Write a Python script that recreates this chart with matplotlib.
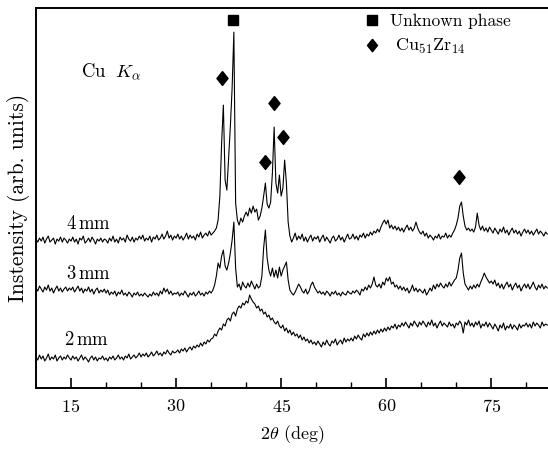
import numpy as np
import matplotlib
matplotlib.use("Agg")
import matplotlib.pyplot as plt

# scan grid: 2theta from 10 to 83 deg, step 0.25
two_theta = np.arange(10.0, 83.001, 0.25)

# intensities (arb. units, curves already offset)
i_4mm = [
    149, 146, 150, 147, 151, 145, 149, 152, 146, 148, 150, 144, 149, 147, 151, 146, 150, 148, 145, 149,
    147, 151, 146, 149, 144, 150, 148, 152, 145, 147, 150, 146, 151, 148, 144, 149, 147, 150, 146, 149,
    148, 145, 150, 147, 152, 146, 149, 145, 151, 148, 150, 146, 153, 149, 147, 151, 146, 150, 148, 152,
    149, 153, 147, 150, 148, 152, 146, 151, 149, 153, 148, 150, 154, 149, 152, 157, 150, 153, 148, 152,
    150, 154, 149, 152, 148, 151, 155, 149, 153, 150, 152, 148, 154, 151, 156, 150, 153, 155, 152, 157,
    153, 155, 157, 160, 168, 192, 245, 283, 208, 198, 230, 262, 300, 356, 185, 168, 163, 170, 166, 172,
    176, 172, 180, 175, 182, 176, 179, 168, 172, 180, 192, 205, 184, 180, 186, 215, 261, 205, 195, 213,
    192, 200, 228, 205, 166, 152, 146, 150, 155, 148, 152, 149, 154, 147, 151, 146, 150, 153, 147, 151,
    149, 152, 146, 150, 153, 147, 151, 148, 145, 150, 152, 147, 149, 153, 148, 151, 146, 150, 154, 149,
    150, 154, 149, 152, 148, 153, 151, 155, 150, 154, 152, 156, 153, 157, 155, 159, 156, 161, 165, 168,
    164, 168, 160, 163, 159, 162, 158, 161, 157, 160, 156, 160, 163, 158, 161, 157, 160, 166, 160, 156,
    154, 157, 152, 155, 150, 153, 151, 148, 152, 150, 154, 149, 152, 151, 155, 150, 153, 151, 155, 158,
    163, 170, 182, 186, 172, 162, 158, 160, 157, 159, 156, 161, 175, 163, 158, 162, 157, 160, 156, 161,
    158, 155, 160, 157, 154, 159, 156, 161, 155, 158, 153, 157, 160, 155, 158, 154, 157, 152, 156, 159,
    155, 158, 154, 157, 153, 156, 159, 154, 157, 155, 152, 156, 154,
]

i_3mm = [
    100, 97, 102, 99, 96, 101, 98, 103, 97, 100, 95, 99, 102, 97, 100, 96, 99, 101, 97, 100,
    98, 101, 96, 99, 102, 97, 100, 95, 99, 97, 101, 96, 99, 94, 98, 100, 95, 98, 96, 99,
    95, 98, 93, 96, 94, 97, 92, 96, 94, 98, 93, 95, 92, 96, 94, 91, 95, 93, 96, 92,
    94, 92, 95, 93, 91, 94, 92, 96, 93, 95, 92, 97, 94, 100, 96, 99, 94, 97, 93, 95,
    94, 96, 92, 95, 93, 97, 94, 91, 95, 93, 96, 92, 94, 97, 93, 95, 92, 96, 94, 97,
    95, 98, 103, 112, 125, 120, 132, 138, 122, 118, 125, 135, 148, 166, 120, 101, 104, 98, 106, 102,
    100, 105, 101, 107, 103, 99, 104, 100, 102, 112, 140, 158, 130, 118, 112, 120, 111, 118, 110, 121,
    112, 118, 122, 126, 108, 98, 95, 93, 96, 100, 104, 101, 97, 95, 99, 94, 97, 103, 106, 101,
    98, 95, 97, 94, 96, 93, 97, 95, 92, 96, 94, 97, 93, 95, 92, 96, 94, 93, 97, 95,
    94, 97, 95, 98, 96, 93, 99, 97, 101, 98, 103, 100, 104, 111, 103, 101, 104, 100, 106, 103,
    110, 107, 111, 104, 106, 101, 103, 99, 102, 98, 101, 97, 100, 95, 98, 103, 97, 100, 96, 99,
    97, 95, 99, 93, 96, 100, 97, 103, 99, 104, 101, 105, 102, 100, 104, 101, 106, 102, 105, 108,
    110, 118, 130, 135, 115, 104, 101, 98, 102, 99, 103, 100, 104, 101, 106, 110, 115, 111, 108, 105,
    107, 104, 108, 102, 105, 100, 104, 99, 103, 106, 101, 104, 98, 102, 105, 100, 103, 97, 101, 104,
    100, 104, 99, 102, 106, 101, 98, 103, 100, 104, 99, 102, 100,
]

i_2mm = [
    31, 28, 33, 29, 32, 27, 30, 34, 28, 31, 29, 33, 27, 30, 32, 28, 31, 29, 33, 30,
    28, 32, 29, 31, 27, 30, 33, 28, 31, 29, 26, 30, 32, 28, 31, 27, 30, 29, 32, 28,
    30, 27, 31, 29, 32, 28, 30, 33, 29, 31, 28, 32, 30, 34, 29, 31, 33, 30, 32, 35,
    31, 34, 32, 35, 31, 33, 36, 32, 34, 37, 33, 35, 32, 36, 34, 38, 35, 33, 37, 35,
    36, 38, 35, 39, 37, 40, 36, 39, 41, 38, 42, 40, 43, 41, 45, 42, 46, 44, 48, 46,
    49, 50, 54, 52, 57, 60, 58, 64, 62, 68, 70, 67, 74, 76, 72, 79, 82, 80, 85, 83,
    87, 85, 93, 89, 86, 84, 80, 82, 77, 79, 74, 76, 71, 73, 68, 70, 66, 64, 67, 62,
    60, 63, 57, 60, 55, 58, 53, 56, 52, 54, 50, 53, 48, 51, 47, 49, 45, 48, 44, 46,
    43, 47, 44, 41, 46, 43, 48, 44, 42, 47, 45, 49, 43, 46, 48, 44, 50, 46, 49, 47,
    50, 47, 52, 49, 53, 50, 48, 54, 51, 55, 52, 56, 53, 57, 54, 58, 55, 59, 56, 60,
    57, 61, 58, 62, 60, 64, 59, 63, 61, 65, 62, 66, 63, 60, 65, 62, 67, 64, 61, 66,
    63, 67, 64, 61, 66, 63, 68, 62, 65, 60, 64, 67, 62, 65, 63, 61, 66, 62, 64, 60,
    65, 63, 67, 64, 55, 66, 63, 68, 62, 65, 61, 66, 63, 67, 60, 64, 62, 66, 61, 65,
    62, 59, 64, 61, 57, 63, 60, 65, 58, 62, 60, 64, 59, 63, 61, 58, 64, 60, 63, 62,
    65, 61, 64, 60, 66, 62, 65, 63, 60, 66, 62, 64, 63,
]

# peak markers
unknown_tt = [38.15]
unknown_y = [368]
cuzr_tt = [36.55, 42.7, 44.0, 45.3, 70.45]
cuzr_y = [310, 226, 285, 251, 211]

plt.rcParams["font.family"] = "serif"
plt.rcParams["font.serif"] = ["cmr10", "DejaVu Serif"]
plt.rcParams["mathtext.fontset"] = "cm"
plt.rcParams["axes.formatter.use_mathtext"] = True

fig = plt.figure(figsize=(5.48, 4.5), dpi=100)
ax = fig.add_axes([0.0657, 0.1378, 0.9343, 0.844])

for vals in (i_4mm, i_3mm, i_2mm):
    ax.plot(two_theta, vals, color="black", lw=0.8)

diamond = [(0, 1), (0.8, 0), (0, -1), (-0.8, 0), (0, 1)]
ax.plot(unknown_tt, unknown_y, ls="none", marker="s", ms=7, color="black")
ax.plot(cuzr_tt, cuzr_y, ls="none", marker=diamond, ms=10, color="black")

# legend drawn in data coords
ax.plot([58.0], [368], ls="none", marker="s", ms=7, color="black")
ax.text(60.6, 367, "Unknown phase", fontsize=12.5, va="center")
ax.plot([58.0], [343], ls="none", marker=diamond, ms=9, color="black")
ax.text(61.2, 342, r"Cu$_{51}$Zr$_{14}$", fontsize=13, va="center")

ax.text(16.4, 316, r"Cu $\;K_\alpha$", fontsize=13.5, va="center")
ax.text(14.3, 164, r"4$\,$mm", fontsize=13.5, va="center")
ax.text(14.3, 114, r"3$\,$mm", fontsize=13.5, va="center")
ax.text(14.0, 48, r"2$\,$mm", fontsize=13.5, va="center")

ax.set_xlim(10, 83.1)
ax.set_ylim(0, 380)
ax.set_xticks([15, 30, 45, 60, 75])
ax.set_xticks(np.arange(20, 81, 5), minor=True)
ax.set_yticks([])
ax.tick_params(axis="x", which="major", direction="in", length=7, width=1.2, labelsize=13, pad=7)
ax.tick_params(axis="x", which="minor", direction="in", length=4, width=1.0)
for s in ("left", "bottom", "top"):
    ax.spines[s].set_linewidth(1.4)
ax.spines["right"].set_visible(False)

ax.set_xlabel(r"$2\theta$ (deg)", fontsize=13, labelpad=6)
ax.set_ylabel("Instensity (arb. units)", fontsize=15.5, labelpad=4)

fig.savefig("out.png", dpi=100)
